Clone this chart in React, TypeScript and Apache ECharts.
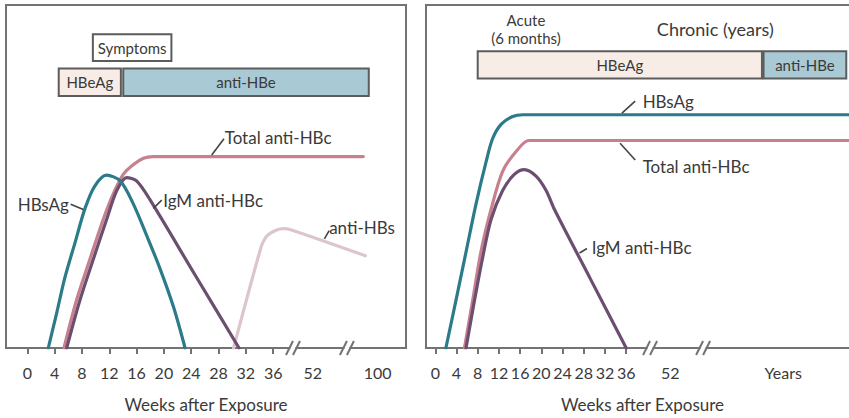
import React, { useEffect, useRef } from "react";
import * as echarts from "echarts";

const FONT = "Lato, 'Open Sans', 'DejaVu Sans', sans-serif";
const INK = "#3a3a3a";
const FRAME = "#737373";
const TEAL = "#2b7b8b";
const ROSE = "#c6808e";
const PLUM = "#6c4f70";
const BLUSH = "#dcc6ca";
const PEACH = "#f7ede6";
const SKY = "#a9c9d4";
const BOX_EDGE = "#5c5c5c";

// x = weeks after exposure (0–36 evenly spaced); past 36 the axis is broken,
// so x beyond 36 is a position on the broken axis (labels below say where 52 / 100 / Years sit)
const tickWeeks = [0, 4, 8, 12, 16, 20, 24, 28, 32, 36];

const leftLabelPos = [...tickWeeks, 41.8, 51.3];
const leftLabelText = [...tickWeeks.map(String), "52", "100"];
const leftBreaks = [38.9, 46.8];

const rightLabelPos = [...tickWeeks, 44.3, 65.6];
const rightLabelText = [...tickWeeks.map(String), "52", "Years"];
const rightBreaks = [40.5, 50.5];

// ---- Left panel: acute hepatitis B with recovery (relative level 0–100)
const leftHBsAg = [[3.07, 0], [4.3, 10.2], [5.5, 20.5], [7.0, 30.8], [8.45, 40.7], [9.9, 47.3], [11.6, 50.4], [13.6, 48.7], [15.5, 42.1], [17.5, 32.7], [19.4, 23.3], [21.4, 12.0], [23.1, 0]];
const leftTotalAntiHBc = [[5.37, 0], [7.2, 13.9], [9.2, 26.1], [11.1, 37.4], [12.6, 45.0], [14.05, 50.6], [15.5, 53.4], [17.0, 55.3], [18.4, 55.8], [49.2, 55.8]];
const leftIgMAntiHBc = [[5.77, 0], [7.7, 13.9], [9.7, 26.1], [11.6, 37.4], [13.1, 45.9], [14.55, 49.7], [16.0, 48.7], [18.0, 43.1], [24.5, 21.5], [31.0, 0]];
const leftAntiHBs = [[30.2, 0], [34.3, 29.9], [35.1, 32.7], [36.5, 34.4], [37.5, 34.8], [38.7, 34.4], [49.5, 26.9]];

const leftBoxLabels = ["Symptoms", "HBeAg", "anti-HBe"];
const leftBoxStart = [9.6, 4.6, 14.05];
const leftBoxEnd = [21.1, 13.7, 50.0];
const leftBoxLow = [83.7, 73.5, 73.5];
const leftBoxHigh = [91.5, 81.5, 81.5];
const leftBoxFill = ["#ffffff", PEACH, SKY];

// ---- Right panel: progression to chronic infection
const rightHBsAg = [[2.0, 0], [3.9, 13.9], [5.8, 28.0], [7.7, 42.1], [9.6, 54.4], [10.8, 61.0], [12.4, 65.2], [14.6, 67.5], [16.5, 68.0], [85, 68.0]];
const rightTotalAntiHBc = [[5.5, 0], [7.05, 13.9], [8.6, 28.0], [10.5, 40.3], [12.7, 51.5], [15.2, 57.2], [17.7, 60.5], [85, 60.5]];
const rightIgMAntiHBc = [[5.8, 0], [7.4, 13.9], [8.9, 26.1], [10.5, 37.4], [12.7, 45.9], [14.9, 50.6], [16.8, 52.0], [19.0, 50.1], [20.9, 45.9], [22.5, 40.3], [29.2, 20.3], [36.0, 0]];

const rightBoxLabels = ["HBeAg", "anti-HBe"];
const rightBoxStart = [8.0, 61.9];
const rightBoxEnd = [61.6, 77.5];
const rightBoxLow = [78.6, 78.6];
const rightBoxHigh = [86.5, 86.5];
const rightBoxFill = [PEACH, SKY];

// ---- Callouts: [text, lineFrom x, lineFrom y, lineTo x, lineTo y, text x, text y, align]
const leftNotes: [string, number, number, number, number, number, number, string][] = [
  ["HBsAg", 8.2, 40.4, 6.35, 41.9, 6.1, 41.9, "right"],
  ["IgM anti-HBc", 18.45, 40.7, 19.68, 43.1, 19.9, 43.0, "left"],
  ["Total anti-HBc", 27.0, 56.25, 28.8, 61.0, 28.9, 61.4, "left"],
  ["anti-HBs", 43.5, 31.8, 44.2, 34.2, 44.2, 35.1, "left"],
];
const rightNotes: [string, number, number, number, number, number, number, string][] = [
  ["HBsAg", 35.2, 68.5, 37.7, 72.0, 39.1, 72.0, "left"],
  ["Total anti-HBc", 34.85, 59.7, 37.7, 54.8, 39.1, 52.9, "left"],
  ["IgM anti-HBc", 27.2, 27.7, 28.6, 29.0, 29.5, 29.2, "left"],
];
const rightHeadings: [string, number, number, number][] = [
  ["Acute\n(6 months)", 17.1, 93.1, 15],
  ["Chronic (years)", 52.8, 92.9, 18],
];

function labelFor(pos: number[], text: string[]) {
  return (v: number) => {
    const i = pos.findIndex((p) => Math.abs(p - v) < 0.01);
    return i >= 0 ? text[i] : "";
  };
}

function xAxisFor(gridIndex: number, min: number, max: number, pos: number[], text: string[]) {
  return {
    type: "value",
    gridIndex,
    min,
    max,
    name: "Weeks after Exposure",
    nameLocation: "middle",
    nameGap: 48,
    nameTextStyle: { color: INK, fontSize: 17, fontFamily: FONT },
    axisLine: { show: true, lineStyle: { color: FRAME, width: 2 } },
    axisTick: { show: true, customValues: tickWeeks, length: 6, lineStyle: { color: FRAME, width: 2 } },
    axisLabel: {
      show: true,
      customValues: pos,
      formatter: labelFor(pos, text),
      color: INK,
      fontSize: 16,
      fontFamily: FONT,
      margin: 16,
    },
    splitLine: { show: false },
  };
}

function yAxisFor(gridIndex: number) {
  return {
    type: "value",
    gridIndex,
    min: 0,
    max: 100,
    show: false,
    splitLine: { show: false },
  };
}

function curve(idx: number, data: number[][], color: string, z: number, smooth = 0.3) {
  return {
    type: "line",
    xAxisIndex: idx,
    yAxisIndex: idx,
    data,
    smooth,
    symbol: "none",
    z,
    lineStyle: { color, width: 3.2, cap: "round", join: "round" },
  };
}

function boxesSeries(idx: number, labels: string[], start: number[], end: number[], low: number[], high: number[], fill: string[]) {
  return {
    type: "custom",
    xAxisIndex: idx,
    yAxisIndex: idx,
    clip: false,
    z: 5,
    data: labels.map((_, i) => [start[i], low[i]]),
    renderItem: (params: any, api: any) => {
      const i = params.dataIndex;
      const p0 = api.coord([start[i], high[i]]);
      const p1 = api.coord([end[i], low[i]]);
      return {
        type: "group",
        children: [
          {
            type: "rect",
            shape: { x: p0[0], y: p0[1], width: p1[0] - p0[0], height: p1[1] - p0[1] },
            style: { fill: fill[i], stroke: BOX_EDGE, lineWidth: 2 },
          },
          {
            type: "text",
            style: {
              text: labels[i],
              x: (p0[0] + p1[0]) / 2,
              y: (p0[1] + p1[1]) / 2,
              align: "center",
              verticalAlign: "middle",
              fill: INK,
              fontSize: 15,
              fontFamily: FONT,
            },
          },
        ],
      };
    },
  };
}

function notesSeries(idx: number, notes: [string, number, number, number, number, number, number, string][]) {
  return {
    type: "custom",
    xAxisIndex: idx,
    yAxisIndex: idx,
    clip: false,
    z: 6,
    data: notes.map((n) => [n[1], n[2]]),
    renderItem: (params: any, api: any) => {
      const n = notes[params.dataIndex];
      const a = api.coord([n[1], n[2]]);
      const b = api.coord([n[3], n[4]]);
      const t = api.coord([n[5], n[6]]);
      return {
        type: "group",
        children: [
          { type: "line", shape: { x1: a[0], y1: a[1], x2: b[0], y2: b[1] }, style: { stroke: "#444", lineWidth: 1.6 } },
          {
            type: "text",
            style: {
              text: n[0],
              x: t[0],
              y: t[1],
              align: n[7],
              verticalAlign: "middle",
              fill: INK,
              fontSize: 17,
              fontFamily: FONT,
            },
          },
        ],
      };
    },
  };
}

function headingsSeries(idx: number, items: [string, number, number, number][]) {
  return {
    type: "custom",
    xAxisIndex: idx,
    yAxisIndex: idx,
    clip: false,
    z: 6,
    data: items.map((h) => [h[1], h[2]]),
    renderItem: (params: any, api: any) => {
      const h = items[params.dataIndex];
      const p = api.coord([h[1], h[2]]);
      return {
        type: "text",
        style: {
          text: h[0],
          x: p[0],
          y: p[1],
          align: "center",
          verticalAlign: "middle",
          fill: INK,
          fontSize: h[3],
          lineHeight: 18,
          fontFamily: FONT,
        },
      };
    },
  };
}

function breaksSeries(idx: number, breaks: number[]) {
  return {
    type: "custom",
    xAxisIndex: idx,
    yAxisIndex: idx,
    clip: false,
    z: 7,
    data: breaks.map((b) => [b, 0]),
    renderItem: (params: any, api: any) => {
      const c = api.coord([breaks[params.dataIndex], 0]);
      const cx = c[0];
      const cy = c[1];
      return {
        type: "group",
        children: [
          { type: "rect", shape: { x: cx - 2.5, y: cy - 2, width: 5, height: 4 }, style: { fill: "#ffffff" } },
          { type: "line", shape: { x1: cx - 7, y1: cy + 7, x2: cx, y2: cy - 7 }, style: { stroke: FRAME, lineWidth: 2 } },
          { type: "line", shape: { x1: cx, y1: cy + 7, x2: cx + 7, y2: cy - 7 }, style: { stroke: FRAME, lineWidth: 2 } },
        ],
      };
    },
  };
}

export default function App() {
  const ref = useRef<HTMLDivElement>(null);
  useEffect(() => {
    if (!ref.current) return;
    const chart = echarts.init(ref.current, null, { renderer: "svg" });
    const gridStyle = { show: true, borderColor: FRAME, borderWidth: 2, backgroundColor: "#ffffff" };
    chart.setOption({
      animation: false,
      backgroundColor: "#ffffff",
      textStyle: { fontFamily: FONT },
      grid: [
        { ...gridStyle, left: 6, top: 5, width: 400, height: 354.3 },
        { ...gridStyle, left: 426, top: 5, width: 433, height: 354.3 },
      ],
      xAxis: [
        xAxisFor(0, -3.12, 55.45, leftLabelPos, leftLabelText),
        xAxisFor(1, -1.75, 79.9, rightLabelPos, rightLabelText),
      ],
      yAxis: [yAxisFor(0), yAxisFor(1)],
      series: [
        curve(0, leftAntiHBs, BLUSH, 2, 0.2),
        curve(0, leftTotalAntiHBc, ROSE, 3),
        curve(0, leftIgMAntiHBc, PLUM, 4),
        curve(0, leftHBsAg, TEAL, 4.5),
        boxesSeries(0, leftBoxLabels, leftBoxStart, leftBoxEnd, leftBoxLow, leftBoxHigh, leftBoxFill),
        notesSeries(0, leftNotes),
        breaksSeries(0, leftBreaks),
        curve(1, rightTotalAntiHBc, ROSE, 3),
        curve(1, rightIgMAntiHBc, PLUM, 4),
        curve(1, rightHBsAg, TEAL, 4.5),
        boxesSeries(1, rightBoxLabels, rightBoxStart, rightBoxEnd, rightBoxLow, rightBoxHigh, rightBoxFill),
        notesSeries(1, rightNotes),
        headingsSeries(1, rightHeadings),
        breaksSeries(1, rightBreaks),
      ],
    });
    return () => chart.dispose();
  }, []);
  return (
    <div style={{ position: "fixed", left: 0, top: 0, width: 849, height: 418, background: "#ffffff", overflow: "hidden" }}>
      <div ref={ref} style={{ width: 880, height: 418 }} />
    </div>
  );
}
